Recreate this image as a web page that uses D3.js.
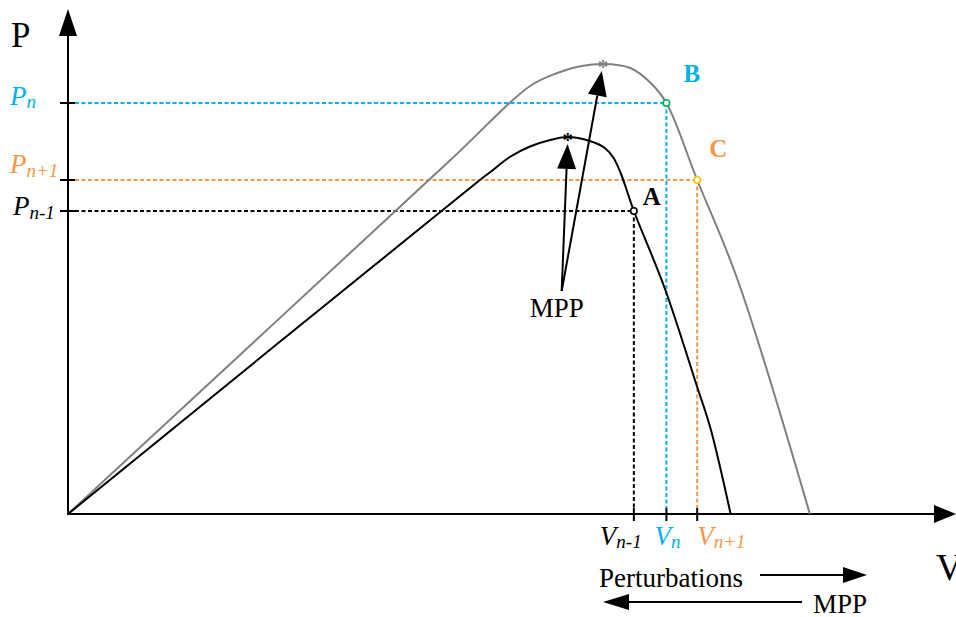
<!DOCTYPE html>
<html>
<head>
<meta charset="utf-8">
<script src="https://cdn.jsdelivr.net/npm/d3@7"></script>
<style>
  html, body { margin: 0; padding: 0; background: #fff; }
  svg { display: block; }
</style>
</head>
<body>
<svg id="chart" width="956" height="617" font-family="'Liberation Serif', 'Times New Roman', 'DejaVu Serif', serif"></svg>
<script>
// P–V characteristics (normalised V and P units)
const curveLowV  = [0, 46.8, 48.0, 50.2, 52.5, 54.8, 56.8, 59.3, 61.0, 62.0, 62.8, 63.6, 64.3, 67.8, 71.5, 73.0, 75.3];
const curveLowP  = [0, 66.8, 68.4, 71.4, 73.5, 74.8, 75.4, 74.6, 73.2, 71.2, 68.2, 64.2, 60.6, 45.2, 25.4, 17.2, 0];
const curveHighV = [0, 43.4, 52.5, 55.6, 57.8, 60.8, 63.9, 66.1, 68.0, 71.5, 76.1, 84.3];
const curveHighP = [0, 70.7, 85.6, 88.2, 89.4, 90.0, 89.2, 86.4, 82.2, 66.8, 46.8, 0];

// Operating points A (n-1), B (n), C (n+1)
const pointNames = ["A", "B", "C"];
const pointV = [64.3, 68.0, 71.5];
const pointP = [60.6, 82.2, 66.8];
const pointSub = ["n-1", "n", "n+1"];

// Maximum power points of the two curves
const mppV = [56.8, 60.8];
const mppP = [75.4, 90.0];
const mppLabelV = 56.1, mppLabelP = 44.6;

const svg = d3.select("#chart");
const x = d3.scaleLinear().domain([0, 100]).range([68, 948]);
const y = d3.scaleLinear().domain([0, 100]).range([514, 14]);

const BLUE = "#00b0f0", ORANGE = "#f79646", GRAY = "#808080";
const pointColor = { A: "#000", B: BLUE, C: ORANGE };
const markerColor = { A: "#000", B: "#00b050", C: "#ffc000" };

// dashed guides from the axes to each operating point
const guides = svg.append("g");
pointNames.forEach((n, i) => {
  const px = x(pointV[i]), py = y(pointP[i]);
  guides.append("line").attr("x1", x(0) + 7).attr("x2", px).attr("y1", py).attr("y2", py)
    .attr("stroke", pointColor[n]).attr("stroke-width", 2).attr("stroke-dasharray", "4,2.5");
  guides.append("line").attr("x1", px).attr("x2", px).attr("y1", py).attr("y2", y(0) - 6)
    .attr("stroke", pointColor[n]).attr("stroke-width", 2).attr("stroke-dasharray", "4,2.5");
});

// axes with arrowheads
const axes = svg.append("g").attr("stroke", "#000").attr("stroke-width", 2);
axes.append("line").attr("x1", x(0)).attr("x2", x(0)).attr("y1", y(0) + 1).attr("y2", 32);
axes.append("line").attr("x1", x(0) - 1).attr("x2", 938).attr("y1", y(0)).attr("y2", y(0));
svg.append("path").attr("d", `M${x(0)},9 L${x(0) - 9},36 L${x(0) + 9},36 Z`).attr("fill", "#000");
svg.append("path").attr("d", `M956,${y(0)} L934,${y(0) - 9} L934,${y(0) + 9} Z`).attr("fill", "#000");

// tick marks
pointNames.forEach((n, i) => {
  axes.append("line").attr("x1", x(0) - 8).attr("x2", x(0) + 7)
    .attr("y1", y(pointP[i])).attr("y2", y(pointP[i]));
  axes.append("line").attr("x1", x(pointV[i])).attr("x2", x(pointV[i]))
    .attr("y1", y(0) - 6).attr("y2", y(0) + 7);
});

// curves
const line = d3.line().x(d => x(d[0])).y(d => y(d[1])).curve(d3.curveCatmullRom.alpha(0.5));
svg.append("path").datum(d3.zip(curveHighV, curveHighP)).attr("d", line)
  .attr("fill", "none").attr("stroke", GRAY).attr("stroke-width", 2);
svg.append("path").datum(d3.zip(curveLowV, curveLowP)).attr("d", line)
  .attr("fill", "none").attr("stroke", "#000").attr("stroke-width", 2);

// operating point markers
pointNames.forEach((n, i) => {
  svg.append("circle").attr("cx", x(pointV[i])).attr("cy", y(pointP[i])).attr("r", 3.2)
    .attr("fill", "#fff").attr("stroke", markerColor[n]).attr("stroke-width", 1.6);
});

// MPP annotation arrows
const ox = x(mppLabelV), oy = y(mppLabelP);
mppV.forEach((v, i) => {
  const tx = x(v), ty = y(mppP[i]);
  const dx = tx - ox, dy = ty - oy, len = Math.hypot(dx, dy);
  const ux = dx / len, uy = dy / len;
  const tipX = tx - ux * 7, tipY = ty - uy * 7;
  const bx = tipX - ux * 25, by = tipY - uy * 25;
  svg.append("line").attr("x1", ox).attr("y1", oy).attr("x2", bx).attr("y2", by)
    .attr("stroke", "#000").attr("stroke-width", 2);
  svg.append("path")
    .attr("d", `M${tipX},${tipY} L${bx - uy * 9.5},${by + ux * 9.5} L${bx + uy * 9.5},${by - ux * 9.5} Z`)
    .attr("fill", "#000");
});
svg.append("text").attr("x", ox - 32).attr("y", oy + 26).attr("font-size", 27).text("MPP");

// MPP asterisks, on top of the arrows
const mppColor = ["#000", GRAY];
mppV.forEach((v, i) => {
  svg.append("text").attr("x", x(v)).attr("y", y(mppP[i]) + 10).attr("text-anchor", "middle")
    .attr("font-size", 21).attr("font-weight", "bold").attr("fill", mppColor[i]).text("*");
});

// axis titles
svg.append("text").attr("x", 11).attr("y", 47).attr("font-size", 35).text("P");
svg.append("text").attr("x", 936).attr("y", 580).attr("font-size", 37).text("V");

// P tick labels
const pLab = [
  { dx: 13, dy: 4, sub: 4 },   // n-1
  { dx: 10, dy: 2, sub: 3 },   // n
  { dx: 10, dy: -7, sub: 4 }   // n+1
];
pointNames.forEach((n, i) => {
  const t = svg.append("text").attr("x", pLab[i].dx).attr("y", y(pointP[i]) + pLab[i].dy)
    .attr("fill", pointColor[n]).attr("font-style", "italic");
  t.append("tspan").attr("font-size", 27).text("P");
  t.append("tspan").attr("font-size", 19).attr("dy", pLab[i].sub).text(pointSub[i]);
});

// V tick labels
const vLab = [-34, -12, 0];
pointNames.forEach((n, i) => {
  const t = svg.append("text").attr("x", x(pointV[i]) + vLab[i]).attr("y", 545)
    .attr("fill", pointColor[n]).attr("font-style", "italic");
  t.append("tspan").attr("font-size", 27).text("V");
  t.append("tspan").attr("font-size", 19).attr("dy", 3).text(pointSub[i]);
});

// point letters
const letterPos = { A: [9, -6], B: [17, -21], C: [12, -23] };
pointNames.forEach((n, i) => {
  svg.append("text").attr("x", x(pointV[i]) + letterPos[n][0]).attr("y", y(pointP[i]) + letterPos[n][1])
    .attr("font-size", 25).attr("font-weight", "bold").attr("fill", pointColor[n]).text(n);
});

// direction legend at the bottom
svg.append("text").attr("x", 599).attr("y", 587).attr("font-size", 27).text("Perturbations");
svg.append("line").attr("x1", 760).attr("x2", 846).attr("y1", 575).attr("y2", 575)
  .attr("stroke", "#000").attr("stroke-width", 2);
svg.append("path").attr("d", "M867,575 L843,567 L843,583 Z").attr("fill", "#000");
svg.append("text").attr("x", 813).attr("y", 613).attr("font-size", 27).text("MPP");
svg.append("line").attr("x1", 802).attr("x2", 626).attr("y1", 602).attr("y2", 602)
  .attr("stroke", "#000").attr("stroke-width", 2);
svg.append("path").attr("d", "M603,602 L629,594 L629,610 Z").attr("fill", "#000");
</script>
</body>
</html>
